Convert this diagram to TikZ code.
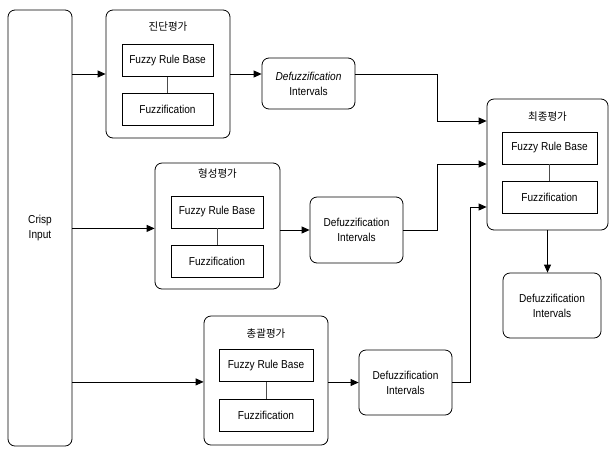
\documentclass[tikz,border=0pt]{standalone}
\usepackage{fontspec}
\setmainfont[FakeStretch=0.88]{Liberation Sans}
\newfontfamily\kor{Noto Sans CJK KR}
\usepackage{tikz}
\usetikzlibrary{arrows.meta}
\usetikzlibrary{positioning}
\usetikzlibrary{calc}

\begin{document}
\begin{tikzpicture}[
    x=1pt, y=-1pt,
    modulo/.style={draw, rounded corners=7pt, line width=0.8pt, inner sep=0pt},
    caja/.style={draw, line width=0.8pt, inner sep=0pt, minimum height=32pt},
    defuz/.style={draw, rounded corners=7pt, line width=0.8pt, align=center, minimum width=93pt, inner sep=0pt},
    titulo/.style={font=\kor\fontsize{10.5}{12}\selectfont, inner sep=0pt},
    flecha/.style={-{Triangle[length=8pt,width=7pt]}, line width=0.8pt},
    enlace/.style={line width=0.6pt, draw=black!70},
    every node/.style={font=\fontsize{11.5}{15}\selectfont}
]
\useasboundingbox (0,0) rectangle (609,448);

% Entrada
\node[modulo, minimum width=64pt, minimum height=436pt, align=center] (crisp) at (40,228) {Crisp\\Input};

% Modulos (posicion aproximada)
\node[modulo, minimum width=124pt, minimum height=128pt] (m1) at (168,74) {};
\node[titulo] (t1) at (168,27) {진단평가};
\node[caja, minimum width=91pt] (r1) at (167.5,60.5) {Fuzzy Rule Base};
\node[caja, minimum width=91pt] (f1) at (167.5,109) {Fuzzification};

\node[modulo, minimum width=125pt, minimum height=126pt] (m2) at (217.5,226) {};
\node[titulo] (t2) at (217.5,174) {형성평가};
\node[caja, minimum width=92pt] (r2) at (217,212) {Fuzzy Rule Base};
\node[caja, minimum width=92pt] (f2) at (217,261.5) {Fuzzification};

\node[modulo, minimum width=124pt, minimum height=129pt] (m3) at (266,380.5) {};
\node[titulo] (t3) at (266,334) {총괄평가};
\node[caja, minimum width=94pt] (r3) at (266,365.5) {Fuzzy Rule Base};
\node[caja, minimum width=94pt] (f3) at (266,415) {Fuzzification};

\node[modulo, minimum width=121pt, minimum height=131pt] (mf) at (547.5,164.5) {};
\node[titulo] (tf) at (547.5,117) {최종평가};
\node[caja, minimum width=95pt] (rf) at (549.5,148) {Fuzzy Rule Base};
\node[caja, minimum width=95pt] (ff) at (549.5,197.5) {Fuzzification};

% Defuzzificacion
\node[defuz, minimum height=51pt] (d1) at (308.5,83.5) {\textit{Defuzzification}\\Intervals};
\node[defuz, minimum height=66pt] (d2) at (356.5,230) {Defuzzification\\Intervals};
\node[defuz, minimum height=65pt] (d3) at (405.5,382.5) {Defuzzification\\Intervals};
\node[defuz, minimum width=98pt, minimum height=65pt] (df) at (552,305.5) {Defuzzification\\Intervals};

% Puntos de quiebre
\coordinate (j1) at (437,121);
\coordinate (j2) at (437,164);
\coordinate (j3) at (470,207);

% Enlaces internos
\draw[enlace] (r1) -- (f1);
\draw[enlace] (r2) -- (f2);
\draw[enlace] (r3) -- (f3);
\draw[enlace] (rf) -- (ff);

% Flechas
\draw[flecha] (crisp.east |- m1.west) -- (m1.west);
\draw[flecha] (crisp.east |- r2.south) -- (m2.west |- r2.south);
\draw[flecha] (crisp.east |- r3.south) -- (m3.west |- r3.south);
\draw[flecha] (m1.east) -- (d1.west |- m1.east);
\draw[flecha] (m2.east |- d2.west) -- (d2.west);
\draw[flecha] (m3.east |- d3.west) -- (d3.west);
\draw[flecha] (d1.east |- m1.east) -| (j1) -- (mf.west |- j1);
\draw[flecha] (d2.east) -| (j2) -- (mf.west |- j2);
\draw[flecha] (d3.east) -| (j3) -- (mf.west |- j3);
\draw[flecha] (mf.south) -- (mf.south |- df.north);

\end{tikzpicture}
\end{document}
